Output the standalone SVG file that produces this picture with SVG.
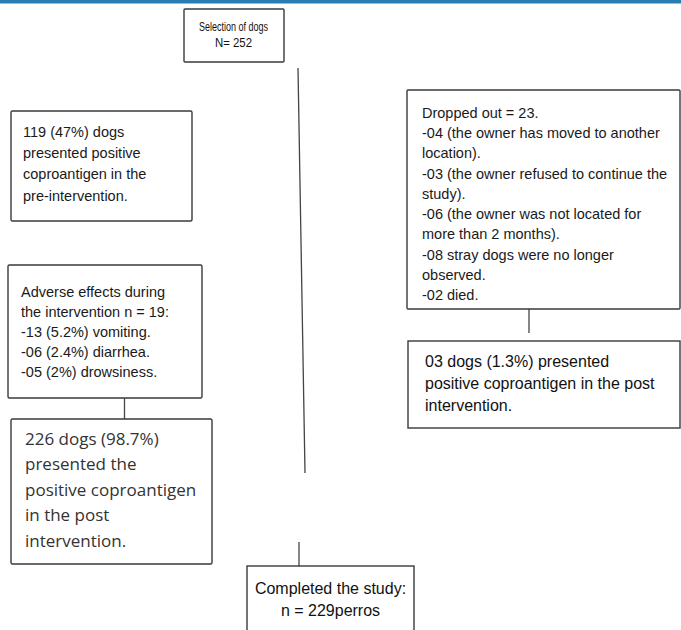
<svg xmlns="http://www.w3.org/2000/svg" width="681" height="630" viewBox="0 0 681 630">
<style>
.box{fill:#fff;stroke:#3a3a3a;stroke-width:1.4}
.ln{stroke:#444;stroke-width:1.3;fill:none}
.t1{font-family:"Liberation Sans",Arial,sans-serif;font-size:14.5px;fill:#1a1a1a}
.t2{font-family:"Liberation Sans",Arial,sans-serif;font-size:16px;fill:#111}
.t3{font-family:"Open Sans","DejaVu Sans",sans-serif;font-size:17px;fill:#333}
.ts{font-family:"Liberation Sans",Arial,sans-serif;font-size:13px;fill:#111}
</style>
<rect x="0" y="0" width="681" height="3.5" fill="#2a7db3"/>
<g id="connectors">
<line class="ln" x1="298" y1="68" x2="305" y2="473"/>
<line class="ln" x1="299" y1="542" x2="299" y2="566"/>
<line class="ln" x1="124.5" y1="398" x2="124.5" y2="419"/>
<line class="ln" x1="529" y1="309" x2="529" y2="333"/>
</g>
<g id="selection">
<rect class="box" x="184" y="9" width="100" height="53" rx="1"/>
<text class="ts" x="233.5" y="31" text-anchor="middle" textLength="69" lengthAdjust="spacingAndGlyphs">Selection of dogs</text>
<text class="ts" x="233.5" y="47" text-anchor="middle" textLength="37" lengthAdjust="spacingAndGlyphs">N= 252</text>
</g>
<g id="pre">
<rect class="box" x="11" y="111" width="181" height="110" rx="1.5"/>
<text class="t1" x="23" y="137">119 (47%) dogs</text>
<text class="t1" x="23" y="158">presented positive</text>
<text class="t1" x="23" y="179">coproantigen in the</text>
<text class="t1" x="23" y="201">pre-intervention.</text>
</g>
<g id="adverse">
<rect class="box" x="8" y="265" width="194" height="133" rx="1.5"/>
<text class="t1" x="21" y="297">Adverse effects during</text>
<text class="t1" x="21" y="317">the intervention n = 19:</text>
<text class="t1" x="21" y="337">-13 (5.2%) vomiting.</text>
<text class="t1" x="21" y="357">-06 (2.4%) diarrhea.</text>
<text class="t1" x="21" y="377">-05 (2%) drowsiness.</text>
</g>
<g id="post226">
<rect class="box" x="11" y="419" width="201" height="145" rx="1.5"/>
<text class="t3" x="25" y="445">226 dogs (98.7%)</text>
<text class="t3" x="25" y="470">presented the</text>
<text class="t3" x="25" y="496">positive coproantigen</text>
<text class="t3" x="25" y="521">in the post</text>
<text class="t3" x="25" y="547">intervention.</text>
</g>
<g id="dropped">
<rect class="box" x="407" y="90" width="273" height="219" rx="1"/>
<text class="t1" x="422" y="118">Dropped out = 23.</text>
<text class="t1" x="422" y="138">-04 (the owner has moved to another</text>
<text class="t1" x="422" y="158">location).</text>
<text class="t1" x="422" y="179">-03 (the owner refused to continue the</text>
<text class="t1" x="422" y="199">study).</text>
<text class="t1" x="422" y="219">-06 (the owner was not located for</text>
<text class="t1" x="422" y="239">more than 2 months).</text>
<text class="t1" x="422" y="260">-08 stray dogs were no longer</text>
<text class="t1" x="422" y="280">observed.</text>
<text class="t1" x="422" y="300">-02 died.</text>
</g>
<g id="post03">
<rect class="box" x="408" y="341" width="272" height="87"/>
<text class="t2" x="425" y="367">03 dogs (1.3%) presented</text>
<text class="t2" x="425" y="389">positive coproantigen in the post</text>
<text class="t2" x="425" y="411">intervention.</text>
</g>
<g id="completed">
<rect class="box" x="247" y="566" width="167" height="70"/>
<text class="t2" x="330.5" y="594" text-anchor="middle">Completed the study:</text>
<text class="t2" x="330.5" y="616" text-anchor="middle">n = 229perros</text>
</g>
</svg>
